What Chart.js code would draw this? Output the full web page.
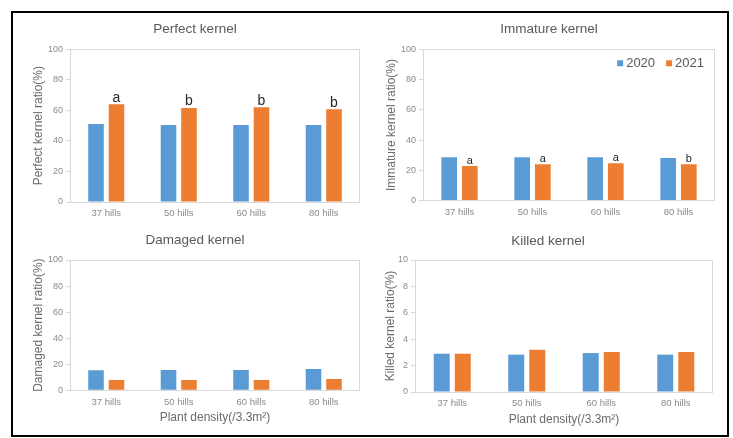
<!DOCTYPE html>
<html>
<head>
<meta charset="utf-8">
<script src="https://cdn.jsdelivr.net/npm/chart.js@4.4.1/dist/chart.umd.min.js"></script>
<style>
    body { margin: 0; background: #fff; }
    #marco { position: absolute; left: 11px; top: 11px; width: 718px; height: 426px; border: 2px solid #000; box-sizing: border-box; }
    canvas { position: absolute; }
</style>
</head>
<body>
<div id="marco"></div>
<canvas id="c1" style="left:13px;top:13px;width:353px;height:212px" width="353" height="212"></canvas>
<canvas id="c2" style="left:366px;top:13px;width:361px;height:212px" width="361" height="212"></canvas>
<canvas id="c3" style="left:13px;top:225px;width:353px;height:209px" width="353" height="209"></canvas>
<canvas id="c4" style="left:366px;top:225px;width:361px;height:209px" width="361" height="209"></canvas>
<script>
// Datos
const categorias = ['37 hills', '50 hills', '60 hills', '80 hills'];
const anios = ['2020', '2021'];

const perfect2020 = [51.1, 50.4, 50.4, 50.4];
const perfect2021 = [64.0, 61.6, 62.0, 60.7];
const letrasPerfect = ['a', 'b', 'b', 'b'];

const immature2020 = [28.7, 28.7, 28.7, 28.2];
const immature2021 = [22.9, 24.0, 24.7, 24.0];
const letrasImmature = ['a', 'a', 'a', 'b'];

const damaged2020 = [15.3, 15.6, 15.6, 16.4];
const damaged2021 = [7.9, 7.9, 7.9, 8.7];

const killed2020 = [2.90, 2.83, 2.95, 2.83];
const killed2021 = [2.90, 3.20, 3.03, 3.03];

const ejePorcentaje = { max: 100, paso: 20 };
const ejeKilled = { max: 10, paso: 2 };

const AZUL = '#5b9bd5';
const NARANJA = '#ed7d31';
const FUENTE = "'Liberation Sans', Arial, sans-serif";

// Caja gris alrededor del área de trazado
const cajaPlugin = {
    id: 'caja',
    afterDraw(chart) {
        const a = chart.chartArea;
        const ctx = chart.ctx;
        ctx.save();
        ctx.strokeStyle = '#d9d9d9';
        ctx.lineWidth = 1;
        ctx.strokeRect(Math.round(a.left) + 0.5, Math.round(a.top) + 0.5,
            Math.round(a.right - a.left) - 1, Math.round(a.bottom - a.top));
        ctx.restore();
    }
};

// Letras de significancia sobre las barras de 2021
const letrasPlugin = {
    id: 'letras',
    afterDatasetsDraw(chart, args, opts) {
        if (!opts.letras) return;
        const meta = chart.getDatasetMeta(1);
        const ctx = chart.ctx;
        ctx.save();
        ctx.fillStyle = '#262626';
        ctx.font = opts.size + 'px ' + FUENTE;
        ctx.textAlign = 'center';
        ctx.textBaseline = 'alphabetic';
        meta.data.forEach((bar, i) => {
            ctx.fillText(opts.letras[i], bar.x, bar.y - 2.5);
        });
        ctx.restore();
    }
};

// Leyenda dentro del área de trazado (arriba a la derecha)
const leyendaPlugin = {
    id: 'leyendaInterna',
    afterDraw(chart, args, opts) {
        if (!opts.mostrar) return;
        const ctx = chart.ctx;
        const a = chart.chartArea;
        ctx.save();
        ctx.font = '13px ' + FUENTE;
        ctx.textBaseline = 'middle';
        ctx.textAlign = 'left';
        const y = a.top + 14;
        let x = a.right - 11;
        const items = chart.data.datasets.slice().reverse();
        items.forEach(ds => {
            const w = ctx.measureText(ds.label).width;
            x -= w;
            ctx.fillStyle = '#595959';
            ctx.fillText(ds.label, x, y + 0.5);
            x -= 9;
            ctx.fillStyle = ds.backgroundColor;
            ctx.fillRect(x, y - 3, 6, 6);
            x -= 11;
        });
        ctx.restore();
    }
};

function crearGrafico(c) {
    const escalaY = {
        min: 0,
        max: c.eje.max,
        afterFit: (s) => { s.width = c.anchoY; },
        ticks: { stepSize: c.eje.paso, color: '#8a8a8a', font: { family: FUENTE, size: 9 }, padding: 3 },
        grid: { display: true, drawOnChartArea: false, drawTicks: true, tickLength: 4, color: '#d9d9d9' },
        border: { display: false },
        title: { display: true, text: c.tituloY, color: '#6b6b6b', font: { family: FUENTE, size: 12 }, padding: { top: c.padTituloY, bottom: 0 } }
    };
    const escalaX = {
        afterFit: (s) => { s.height = c.altoX; },
        ticks: { color: '#8a8a8a', font: { family: FUENTE, size: 9.5 }, padding: c.padTicksX, maxRotation: 0 },
        grid: { display: false, drawTicks: false },
        border: { display: false },
        title: {
            display: !!c.tituloX, text: c.tituloX || '', color: '#6b6b6b',
            font: { family: FUENTE, size: 12 }, padding: { top: 0, bottom: c.padTituloX || 0 }
        }
    };

    return new Chart(document.getElementById(c.id), {
        type: 'bar',
        data: {
            labels: categorias,
            datasets: [
                { label: anios[0], data: c.d2020, backgroundColor: AZUL, categoryPercentage: 0.565, barPercentage: 0.76 },
                { label: anios[1], data: c.d2021, backgroundColor: NARANJA, categoryPercentage: 0.565, barPercentage: 0.76 }
            ]
        },
        options: {
            responsive: false,
            animation: false,
            layout: { padding: { left: c.padL, right: c.padR, top: 0, bottom: 0 } },
            scales: { x: escalaX, y: escalaY },
            plugins: {
                legend: { display: false },
                tooltip: { enabled: false },
                title: {
                    display: true,
                    text: c.titulo,
                    color: '#595959',
                    font: { family: FUENTE, size: 13.5, weight: 'normal' },
                    padding: { top: c.tituloArriba, bottom: c.tituloAbajo }
                },
                letras: { letras: c.letras, size: c.tamLetra },
                leyendaInterna: { mostrar: !!c.leyenda }
            }
        },
        plugins: [cajaPlugin, letrasPlugin, leyendaPlugin]
    });
}

crearGrafico({
    id: 'c1', titulo: 'Perfect kernel', tituloY: 'Perfect kernel ratio(%)',
    d2020: perfect2020, d2021: perfect2021, eje: ejePorcentaje,
    letras: letrasPerfect, tamLetra: 14,
    padL: 17, padR: 6, anchoY: 40, padTituloY: 1.8,
    tituloArriba: 7.9, tituloAbajo: 12.2, altoX: 23, padTicksX: 5.3
});

crearGrafico({
    id: 'c2', titulo: 'Immature kernel', tituloY: 'Immature kernel ratio(%)',
    d2020: immature2020, d2021: immature2021, eje: ejePorcentaje,
    letras: letrasImmature, tamLetra: 11, leyenda: true,
    padL: 17, padR: 12, anchoY: 40, padTituloY: 1.8,
    tituloArriba: 7.9, tituloAbajo: 12.2, altoX: 24.3, padTicksX: 6.3
});

crearGrafico({
    id: 'c3', titulo: 'Damaged kernel', tituloY: 'Damaged kernel ratio(%)',
    tituloX: 'Plant density(/3.3m²)',
    d2020: damaged2020, d2021: damaged2021, eje: ejePorcentaje,
    padL: 17, padR: 6, anchoY: 40, padTituloY: 1.8,
    tituloArriba: 7.6, tituloAbajo: 11.2, altoX: 43.7, padTicksX: 6.3, padTituloX: 9.1
});

crearGrafico({
    id: 'c4', titulo: 'Killed kernel', tituloY: 'Killed kernel ratio(%)',
    tituloX: 'Plant density(/3.3m²)',
    d2020: killed2020, d2021: killed2021, eje: ejeKilled,
    padL: 17, padR: 14, anchoY: 32, padTituloY: 0,
    tituloArriba: 7.9, tituloAbajo: 10.9, altoX: 42, padTicksX: 5.6, padTituloX: 7.5
});
</script>
</body>
</html>
